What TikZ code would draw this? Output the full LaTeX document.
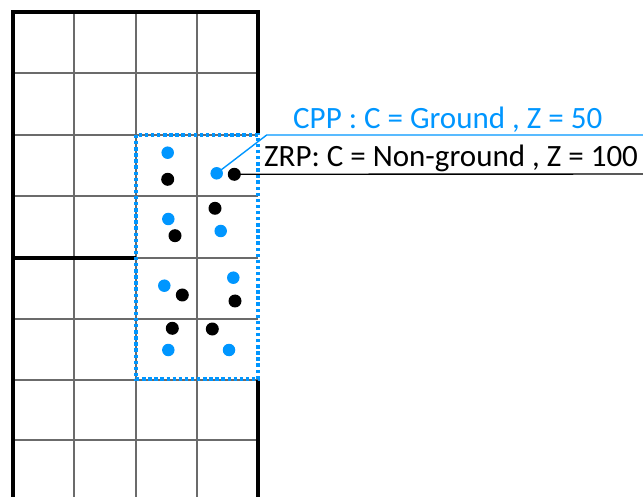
\documentclass[tikz,border=0pt]{standalone}
\usepackage{fontspec}
\setmainfont{Carlito}
\definecolor{cblue}{RGB}{0,150,255}
\begin{document}
\begin{tikzpicture}[x=1pt,y=-1pt,
  gridline/.style={draw=black!58, line width=1.4pt},
  border/.style={draw=black, line width=3.6pt, line join=miter},
  bdot/.style={circle, fill=cblue, inner sep=0pt, minimum size=12.5pt},
  kdot/.style={circle, fill=black, inner sep=0pt, minimum size=13pt},
  lbl/.style={anchor=base west, inner sep=0pt, font=\fontsize{31}{36}\selectfont}]
\useasboundingbox (0,0) rectangle (643,497);
% grid
\foreach \x in {74,136,197} \draw[gridline] (\x,12) -- (\x,497);
\foreach \y in {73,135,196,258,319,380,440} \draw[gridline] (13,\y) -- (258,\y);
% thick borders
\draw[border] (13,497) -- (13,12) -- (258,12) -- (258,135);
\draw[border] (258,380) -- (258,497);
\draw[border] (13,258) -- (136,258);
% dotted selection
\draw[draw=cblue, line width=3.6pt, dash pattern=on 3.4pt off 2.7pt] (136,135) rectangle (258,379);
% dots
\node[bdot] (b1) at (167.7,152.7) {};
\node[kdot] (k1) at (167.7,179.3) {};
\node[bdot] (b2) at (216.7,173.3) {};
\node[kdot] (k2) at (234.3,174.3) {};
\node[bdot] (b3) at (168.3,219) {};
\node[kdot] (k3) at (175,235.7) {};
\node[kdot] (k4) at (215,208.3) {};
\node[bdot] (b4) at (220.7,231) {};
\node[bdot] (b5) at (164.3,285.7) {};
\node[kdot] (k5) at (182.3,295) {};
\node[bdot] (b6) at (233.3,277.7) {};
\node[kdot] (k6) at (235,301) {};
\node[kdot] (k7) at (172.3,328.3) {};
\node[kdot] (k8) at (212.3,329) {};
\node[bdot] (b7) at (168.3,350) {};
\node[bdot] (b8) at (229,350) {};
% labels
\coordinate (bc) at (266.7,135);
\coordinate (be) at (643,135);
\coordinate (ke) at (643,174);
\draw[cblue, line width=1.4pt] (b2.center) -- (bc) -- (be);
\draw[black, line width=1.4pt] (k2.center) -- (ke);
\node[lbl, text=cblue] (cpp) at (293,129) {CPP : C = Ground , Z = 50};
\node[lbl, text=black] (zrp) at (264,167) {ZRP: C = Non-ground , Z = 100};
\end{tikzpicture}
\end{document}
